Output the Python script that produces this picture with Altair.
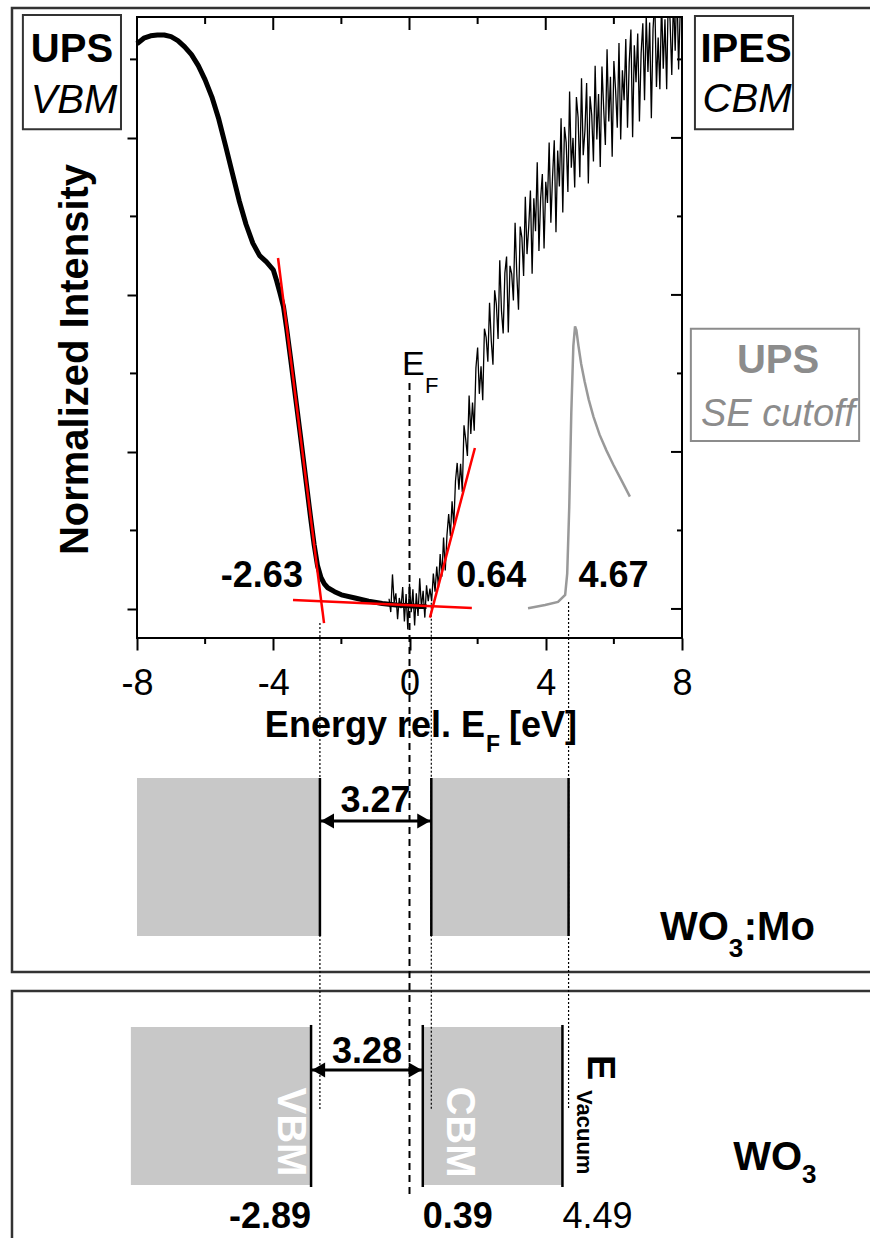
import altair as alt
import pandas as pd

FONT = "Liberation Sans"

# ---------------- spectra ----------------
ups_energy = [-8.0, -7.8, -7.6, -7.4, -7.2, -7.0, -6.8, -6.6, -6.4, -6.2, -6.0, -5.8, -5.6, -5.4, -5.2,
              -5.0, -4.8, -4.6, -4.4, -4.2, -4.0, -3.9, -3.8, -3.7, -3.6, -3.5, -3.4, -3.3, -3.2, -3.1,
              -3.0, -2.9, -2.8, -2.7, -2.6, -2.5, -2.4, -2.2, -2.0, -1.6, -1.2, -0.8, -0.4, 0.0, 0.3, 0.5]
ups_intensity = [7.20, 7.27, 7.30, 7.31, 7.31, 7.29, 7.24, 7.16, 7.06, 6.92, 6.74, 6.52, 6.24, 5.90, 5.55,
                 5.20, 4.90, 4.66, 4.50, 4.42, 4.32, 4.18, 4.02, 3.85, 3.55, 3.22, 2.88, 2.54, 2.20, 1.85,
                 1.50, 1.15, 0.82, 0.55, 0.40, 0.32, 0.27, 0.22, 0.18, 0.14, 0.10, 0.07, 0.05, 0.04, 0.03, 0.03]

ipes_energy = [round(-0.6 + 0.05 * i, 2) for i in range(173)]
ipes_intensity = [
    0.13, -0.04, 0.44, 0.08, 0.20, -0.13, 0.14, 0.01, 0.28, -0.16,
    0.19, -0.26, 0.32, -0.04, 0.25, -0.21, 0.20, -0.09, 0.39, 0.02,
    0.23, -0.11, 0.30, 0.10, 0.26, 0.10, 0.45, 0.22, 0.54, 0.27,
    0.70, 0.41, 0.91, 0.49, 0.94, 1.21, 0.93, 1.37, 1.06, 1.63,
    1.86, 1.52, 1.85, 1.49, 2.34, 2.16, 1.95, 2.72, 2.23, 2.63,
    2.27, 3.07, 3.33, 2.74, 3.09, 2.66, 3.57, 3.46, 3.15, 3.90,
    3.42, 3.11, 4.06, 3.88, 3.44, 4.44, 3.80, 3.51, 4.28, 4.49,
    3.52, 4.37, 4.27, 3.93, 4.92, 4.26, 3.81, 4.87, 4.73, 4.24,
    5.25, 4.52, 4.87, 5.33, 4.27, 5.23, 4.81, 5.69, 4.56, 5.23,
    5.54, 4.59, 5.44, 5.17, 5.94, 4.92, 5.51, 5.97, 4.80, 5.84,
    5.38, 6.25, 5.05, 6.14, 5.94, 5.31, 6.59, 5.62, 6.00, 5.37,
    6.52, 6.26, 5.50, 6.76, 5.78, 6.09, 6.70, 5.42, 6.53, 6.29,
    5.70, 6.92, 5.98, 6.56, 5.63, 6.91, 6.38, 5.91, 7.13, 6.21,
    6.78, 5.76, 6.98, 6.61, 6.13, 7.21, 5.98, 6.86, 6.48, 7.26,
    6.13, 6.96, 7.38, 6.01, 7.18, 6.71, 7.33, 6.21, 7.08, 7.46,
    6.48, 7.56, 6.84, 7.47, 6.25, 7.39, 7.77, 6.65, 7.28, 6.62,
    7.75, 6.88, 7.51, 6.62, 7.93, 7.49, 6.80, 7.80, 7.11, 8.01,
    6.87, 7.67, 7.48,
]

se_energy = [3.48, 3.98, 4.36, 4.57, 4.63, 4.69, 4.75, 4.81, 4.86, 4.90, 4.96, 5.04, 5.14, 5.26,
             5.40, 5.58, 5.78, 5.98, 6.22, 6.47]
se_intensity = [0.01, 0.05, 0.09, 0.18, 0.45, 1.30, 2.50, 3.35, 3.60, 3.55, 3.35, 3.12, 2.90, 2.67,
                2.45, 2.22, 2.02, 1.84, 1.64, 1.43]

# linear extrapolations (red)
fit_x1 = [-3.86, -3.42, 0.60]
fit_y1 = [4.47, 0.115, -0.11]
fit_x2 = [-2.51, 1.83, 1.92]
fit_y2 = [-0.18, 0.013, 2.05]

# band diagram values
materials = ["WO3:Mo", "WO3"]
vbm = [-2.63, -2.89]
cbm = [0.64, 0.39]
vacuum = [4.67, 4.49]
gap = [3.27, 3.28]

# axis ticks
x_major = [-8, -4, 0, 4, 8]
x_minor = [-6, -2, 2, 6]
y_major = [0, 2, 4, 6]
y_minor = [1, 3, 5, 7]

# ---------------- layout (positions in the chart's own units) ----------------
band_left = [-8.0, -8.18]
rect_top = [-2.153, -5.325]
rect_bot = [-4.166, -7.337]
edge_top = [-2.153, -5.299]
edge_bot = [-4.166, -7.363]
arrow_y = [-2.701, -5.873]
gaplabel_y = [-2.586, -5.783]
dotted_top = [-0.18, 0.08, 0.09]
dotted_bot = -6.38
ef_top, ef_bot = 2.878, -7.465

X_SCALE = alt.Scale(domain=[-8, 8], nice=False, zero=False)
Y_SCALE = alt.Scale(domain=[-0.37, 7.54], nice=False, zero=False)

X_AXIS = alt.Axis(values=x_major, tickSize=12, tickWidth=2, tickColor="black", domain=False,
                  grid=False, labelFont=FONT, labelFontSize=36, labelColor="black",
                  labelBaseline="alphabetic", labelPadding=44, labelFlush=False,
                  labelExpr="toString(datum.value)", title=None)
Y_AXIS = alt.Axis(values=y_major, tickSize=10, tickWidth=2, tickColor="black", domain=False,
                  grid=False, labels=False, title="Normalized Intensity", titleFont=FONT,
                  titleFontSize=40, titleFontWeight="bold", titleColor="black",
                  titleAngle=270, titleBaseline="alphabetic", titleAlign="center",
                  titleX=-50, titleY=342)


def ex(f):
    return alt.X(f, type="quantitative", scale=X_SCALE, axis=X_AXIS)


def ey(f):
    return alt.Y(f, type="quantitative", scale=Y_SCALE, axis=Y_AXIS)


def text_layer(rows, **kw):
    df = pd.DataFrame(rows, columns=["x", "y", "t"])
    props = dict(font=FONT, baseline="alphabetic", color="black")
    props.update(kw)
    return alt.Chart(df).mark_text(**props).encode(x=ex("x"), y=ey("y"), text="t:N")


def rect_layer(rows, **kw):
    df = pd.DataFrame(rows, columns=["x", "x2", "y", "y2"])
    return alt.Chart(df).mark_rect(**kw).encode(x=ex("x"), x2="x2", y=ey("y"), y2="y2")


def rule_layer(rows, **kw):
    df = pd.DataFrame(rows, columns=["x", "x2", "y", "y2"])
    return alt.Chart(df).mark_rule(**kw).encode(x=ex("x"), x2="x2", y=ey("y"), y2="y2")


# ---------------- spectra ----------------
ups = alt.Chart(pd.DataFrame({"x": ups_energy, "y": ups_intensity})).mark_line(
    color="black", strokeWidth=5, strokeJoin="round").encode(x=ex("x"), y=ey("y"))

ipes = alt.Chart(pd.DataFrame({"x": ipes_energy, "y": ipes_intensity})).mark_line(
    color="black", strokeWidth=1.3, clip=True).encode(x=ex("x"), y=ey("y"))

se = alt.Chart(pd.DataFrame({"x": se_energy, "y": se_intensity})).mark_line(
    color="#999999", strokeWidth=2.5).encode(x=ex("x"), y=ey("y"))

fits = rule_layer(list(zip(fit_x1, fit_x2, fit_y1, fit_y2)), color="#ff0000", strokeWidth=2.5)

# inward / minor ticks
tick_kw = dict(color="black", strokeWidth=2)
top_major = alt.Chart(pd.DataFrame({"x": x_major[1:-1]})).mark_rule(**tick_kw).encode(
    x=ex("x"), y=alt.value(0), y2=alt.value(13))
top_minor = alt.Chart(pd.DataFrame({"x": x_minor})).mark_rule(**tick_kw).encode(
    x=ex("x"), y=alt.value(0), y2=alt.value(7))
bot_minor = alt.Chart(pd.DataFrame({"x": x_minor})).mark_rule(**tick_kw).encode(
    x=ex("x"), y=alt.value(621), y2=alt.value(627))
left_minor = alt.Chart(pd.DataFrame({"y": y_minor})).mark_rule(**tick_kw).encode(
    y=ey("y"), x=alt.value(0), x2=alt.value(-7))
right_major = alt.Chart(pd.DataFrame({"y": y_major})).mark_rule(**tick_kw).encode(
    y=ey("y"), x=alt.value(545), x2=alt.value(534))
right_minor = alt.Chart(pd.DataFrame({"y": y_minor})).mark_rule(**tick_kw).encode(
    y=ey("y"), x=alt.value(545), x2=alt.value(540))

# ---------------- frames and boxes ----------------
frames = rect_layer([(-11.67, 14.5, 7.655, -4.624), (-11.67, 14.5, -4.866, -8.4)],
                    fillOpacity=0, stroke="#333333", strokeWidth=2.5)
boxes = rect_layer([(-11.35, -8.47, 7.565, 6.11), (8.38, 11.26, 7.553, 6.11)],
                   fillOpacity=0, stroke="#333333", strokeWidth=2)
se_box = rect_layer([(8.26, 13.20, 3.57, 2.14)], fillOpacity=0, stroke="#8c8c8c", strokeWidth=2)

box_bold = text_layer([(-9.91, 6.967, "UPS"), (9.88, 6.967, "IPES")], fontSize=40, fontWeight="bold")
box_ital = text_layer([(-9.85, 6.317, "VBM"), (9.91, 6.33, "CBM")], fontSize=40, fontStyle="italic")
se_bold = text_layer([(10.82, 3.005, "UPS")], fontSize=40, fontWeight="bold", color="#8c8c8c")
se_ital = text_layer([(10.82, 2.33, "SE cutoff")], fontSize=38, fontStyle="italic", color="#8c8c8c")

# ---------------- E_F ----------------
ef_line = rule_layer([(0, 0, ef_top, ef_bot)], color="black", strokeWidth=2, strokeDash=[7, 5])
ef_e = text_layer([(-0.22, 2.98, "E")], fontSize=34, align="left")
ef_f = text_layer([(0.455, 2.75, "F")], fontSize=22, align="left")

# x axis title with subscript
xt_main = text_layer([(2.216, -1.631, "Energy rel. E")], fontSize=36, fontWeight="bold", align="right")
xt_sub = text_layer([(2.246, -1.822, "F")], fontSize=23, fontWeight="bold", align="left")
xt_unit = text_layer([(2.921, -1.631, "[eV]")], fontSize=36, fontWeight="bold", align="left")

# edge values on the spectrum
lab_vbm = text_layer([(vbm[0], 0.28, f"{vbm[0]:.2f}")], fontSize=36, fontWeight="bold",
                     align="right", dx=-17)
lab_cbm = text_layer([(cbm[0], 0.28, f"{cbm[0]:.2f}")], fontSize=36, fontWeight="bold",
                     align="left", dx=25)
lab_vac = text_layer([(vacuum[0], 0.28, f"{vacuum[0]:.2f}")], fontSize=36, fontWeight="bold",
                     align="left", dx=10)

# dotted guides
dotted = rule_layer([(v, v, t, dotted_bot) for v, t in zip([vbm[0], cbm[0], vacuum[0]], dotted_top)],
                    color="black", strokeWidth=1.2, strokeDash=[2, 2])

# ---------------- band diagrams ----------------
vb_rects = rect_layer(list(zip(band_left, vbm, rect_top, rect_bot)), color="#c8c8c8")
cb_rects = rect_layer(list(zip(cbm, vacuum, rect_top, rect_bot)), color="#c8c8c8")
edge_rows = []
for i in range(len(materials)):
    for v in (vbm[i], cbm[i], vacuum[i]):
        edge_rows.append((v, v, edge_top[i], edge_bot[i]))
edges = rule_layer(edge_rows, color="black", strokeWidth=2.5)

shafts = rule_layer([(vbm[i], cbm[i], arrow_y[i], arrow_y[i]) for i in range(2)],
                    color="black", strokeWidth=3)
head_l = alt.Chart(pd.DataFrame({"x": vbm, "y": arrow_y})).mark_point(
    shape="triangle-left", filled=True, size=230, color="black", opacity=1, xOffset=7.5).encode(
    x=ex("x"), y=ey("y"))
head_r = alt.Chart(pd.DataFrame({"x": cbm, "y": arrow_y})).mark_point(
    shape="triangle-right", filled=True, size=230, color="black", opacity=1, xOffset=-7.5).encode(
    x=ex("x"), y=ey("y"))
gap_labels = text_layer([((vbm[i] + cbm[i]) / 2, gaplabel_y[i], f"{gap[i]:.2f}") for i in range(2)],
                        fontSize=36, fontWeight="bold")

# material names with subscripts
mat1_a = text_layer([(9.374, -4.217, "WO")], fontSize=40, fontWeight="bold", align="right")
mat1_b = text_layer([(9.374, -4.433, "3")], fontSize=26, fontWeight="bold", align="left")
mat1_c = text_layer([(9.814, -4.217, ":Mo")], fontSize=40, fontWeight="bold", align="left")
mat2_a = text_layer([(11.523, -7.146, "WO")], fontSize=40, fontWeight="bold", align="right")
mat2_b = text_layer([(11.523, -7.312, "3")], fontSize=26, fontWeight="bold", align="left")

# rotated labels in the WO3 panel
band_names = text_layer([(-3.51, -6.662, "VBM"), (1.45, -6.662, "CBM")], fontSize=40,
                        fontWeight="bold", color="white", angle=90, baseline="middle")
evac_e = text_layer([(5.24, -5.682, "E")], fontSize=38, fontWeight="bold", angle=90, align="left")
evac_s = text_layer([(4.93, -6.128, "Vacuum")], fontSize=22, fontWeight="bold", angle=90, align="left")

# values under the WO3 panel
low_vbm = text_layer([(vbm[1], -7.885, f"{vbm[1]:.2f}")], fontSize=36, fontWeight="bold", align="right")
low_cbm = text_layer([(cbm[1], -7.885, f"{cbm[1]:.2f}")], fontSize=36, fontWeight="bold", align="left")
low_vac = text_layer([(vacuum[1], -7.885, f"{vacuum[1]:.2f}")], fontSize=36, align="left")

chart = alt.layer(
    ups, frames, boxes, se_box, vb_rects, cb_rects, dotted, ef_line, edges, shafts, head_l, head_r,
    ipes, se, fits,
    top_major, top_minor, bot_minor, left_minor, right_major, right_minor,
    box_bold, box_ital, se_bold, se_ital, ef_e, ef_f, xt_main, xt_sub, xt_unit,
    lab_vbm, lab_cbm, lab_vac, gap_labels, mat1_a, mat1_b, mat1_c, mat2_a, mat2_b,
    band_names, evac_e, evac_s, low_vbm, low_cbm, low_vac,
).properties(
    width=545, height=621,
    autosize=alt.AutoSizeParams(type="none"),
    padding={"left": 137, "top": 17, "right": 188, "bottom": 600},
    background="white",
).configure_view(stroke="black", strokeWidth=2)

chart.save("out.html", embed_options={"renderer": "svg", "actions": False})
